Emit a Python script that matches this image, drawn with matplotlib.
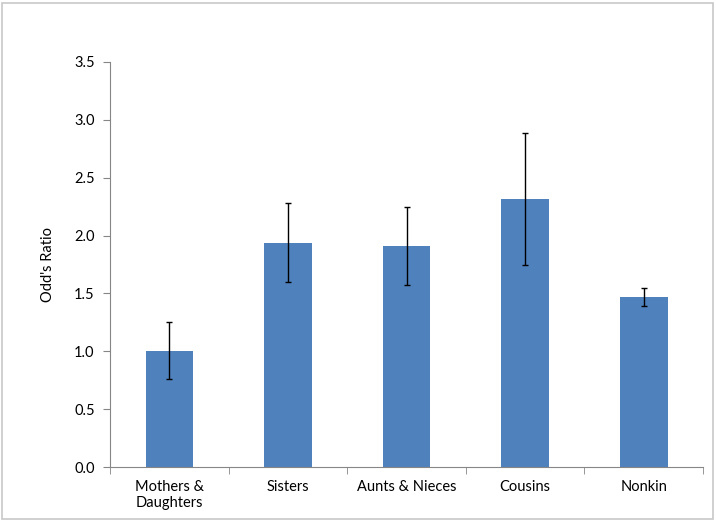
import matplotlib.pyplot as plt
import numpy as np
from matplotlib.patches import Rectangle

plt.rcParams['font.family'] = ['Lato', 'DejaVu Sans']

categories = ['Mothers &\nDaughters', 'Sisters', 'Aunts & Nieces', 'Cousins', 'Nonkin']
odds = [1.00, 1.94, 1.91, 2.32, 1.47]
err_low = [0.76, 1.60, 1.57, 1.75, 1.39]
err_high = [1.25, 2.28, 2.25, 2.89, 1.55]

odds_arr = np.array(odds)
yerr = [odds_arr - np.array(err_low), np.array(err_high) - odds_arr]

fig = plt.figure(figsize=(7.16, 5.21), dpi=100)
fig.patches.append(Rectangle((0.003, 0.004), 0.993, 0.99, transform=fig.transFigure,
                             fill=False, edgecolor='#c8c8c8', linewidth=1.2))
ax = fig.add_axes([0.1536, 0.1036, 0.8284, 0.7774])

x = np.arange(len(categories))
ax.bar(x, odds, width=0.4, color='#4F81BD', zorder=2)
ax.errorbar(x, odds, yerr=yerr, fmt='none', ecolor='black', elinewidth=1,
            capsize=2.5, capthick=1, zorder=3)

ax.set_xlim(-0.5, len(categories) - 0.5)
ax.set_ylim(0, 3.5)
ax.set_yticks(np.arange(0, 3.51, 0.5))
ax.set_yticklabels([f'{v:.1f}' for v in np.arange(0, 3.51, 0.5)])
ax.set_xticks(x)
ax.set_xticklabels(categories)
ax.set_xticks(np.arange(-0.5, len(categories), 1), minor=True)
ax.tick_params(axis='x', which='major', length=0, pad=9, labelsize=10.5)
ax.tick_params(axis='x', which='minor', length=5, color='#868686', direction='out')
ax.tick_params(axis='y', length=5, color='#868686', labelsize=10.5, pad=6)

for s in ['top', 'right']:
    ax.spines[s].set_visible(False)
for s in ['left', 'bottom']:
    ax.spines[s].set_color('#868686')

ax.set_ylabel("Odd's Ratio", fontsize=10.5, labelpad=14)

fig.savefig('out.png', dpi=100)
